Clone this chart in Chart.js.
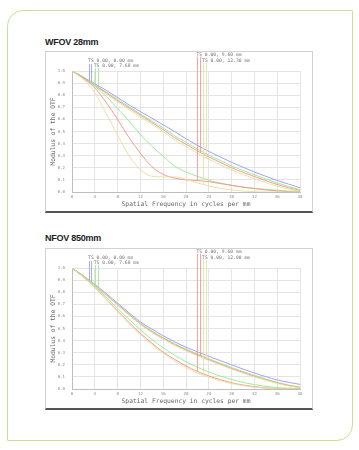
<!DOCTYPE html>
<html>
<head>
<meta charset="utf-8">
<script src="https://cdn.jsdelivr.net/npm/chart.js@4"></script>
<style>
  body { margin: 0; background: #fff; width: 359px; height: 450px; position: relative; overflow: hidden; }
  .card { position: absolute; left: 7px; top: 10px; width: 346px; height: 431px; box-sizing: border-box;
          border: 1.5px solid #c9e196; border-radius: 16px 0 16px 0; }
  .title { position: absolute; left: 45px; font: bold 9px "Liberation Sans", Arial, sans-serif;
           line-height: 11px; letter-spacing: -0.25px; color: #222; }
  .box { position: absolute; left: 45px; width: 268px; height: 162px; box-sizing: border-box;
         border: 1px solid #d2d2d2; border-bottom: 2px solid #555; }
  .box canvas { position: absolute; left: 0; top: 0; }
</style>
</head>
<body>
<div class="card"></div>
<div class="title" style="top:37px">WFOV 28mm</div>
<div class="box" style="top:51px"><canvas id="wfov" width="266" height="159"></canvas></div>
<div class="title" style="top:233px">NFOV 850mm</div>
<div class="box" style="top:248px"><canvas id="nfov" width="266" height="159"></canvas></div>
<script>
// spatial frequency samples (cycles per mm)
const freq = [0, 2, 4, 6, 8, 10, 12, 14, 16, 18, 20, 22, 24, 26, 28, 30, 32, 34, 36, 38, 40];
const xTicks = [0, 4, 8, 12, 16, 20, 24, 28, 32, 36, 40];

// WFOV 28mm curves
const wfovBlue      = [1, 0.95, 0.895, 0.84, 0.78, 0.72, 0.665, 0.61, 0.555, 0.50, 0.44, 0.385, 0.335, 0.29, 0.245, 0.205, 0.165, 0.13, 0.095, 0.065, 0.035];
const wfovGreenTop  = [1, 0.945, 0.885, 0.825, 0.765, 0.705, 0.645, 0.585, 0.53, 0.465, 0.41, 0.355, 0.305, 0.26, 0.215, 0.178, 0.142, 0.108, 0.075, 0.045, 0.02];
const wfovRedTop    = [1, 0.945, 0.88, 0.82, 0.755, 0.695, 0.635, 0.575, 0.515, 0.45, 0.395, 0.34, 0.29, 0.245, 0.2, 0.163, 0.128, 0.094, 0.062, 0.035, 0.012];
const wfovYellowTop = [1, 0.94, 0.875, 0.81, 0.745, 0.68, 0.62, 0.56, 0.5, 0.43, 0.375, 0.32, 0.27, 0.225, 0.18, 0.145, 0.11, 0.078, 0.048, 0.025, 0.008];
const wfovGreenLow  = [1, 0.95, 0.875, 0.79, 0.69, 0.585, 0.475, 0.38, 0.295, 0.215, 0.165, 0.13, 0.097, 0.075, 0.055, 0.04, 0.03, 0.022, 0.015, 0.008, 0.005];
const wfovRedLow    = [1, 0.94, 0.86, 0.74, 0.6, 0.45, 0.32, 0.21, 0.145, 0.115, 0.1, 0.095, 0.085, 0.07, 0.055, 0.04, 0.028, 0.017, 0.008, 0.003, 0];
const wfovYellowLow = [1, 0.93, 0.82, 0.65, 0.47, 0.3, 0.185, 0.13, 0.125, 0.125, 0.105, 0.075, 0.05, 0.03, 0.017, 0.008, 0.003, 0, 0, 0, 0];
const wfovLabels = ['TS 0.00, 0.00 mm', 'TS 0.00, 7.68 mm', 'TS 0.00, 9.60 mm', 'TS 0.00, 12.30 mm'];

// NFOV 850mm curves
const nfovBlue      = [1, 0.935, 0.865, 0.79, 0.71, 0.63, 0.555, 0.495, 0.44, 0.39, 0.345, 0.308, 0.27, 0.235, 0.2, 0.165, 0.132, 0.102, 0.075, 0.055, 0.038];
const nfovGreenTop  = [1, 0.935, 0.86, 0.78, 0.70, 0.62, 0.545, 0.48, 0.425, 0.375, 0.33, 0.29, 0.25, 0.213, 0.178, 0.145, 0.113, 0.083, 0.056, 0.033, 0.017];
const nfovRedTop    = [1, 0.933, 0.857, 0.777, 0.695, 0.615, 0.538, 0.473, 0.418, 0.367, 0.322, 0.282, 0.243, 0.206, 0.17, 0.137, 0.105, 0.076, 0.05, 0.028, 0.012];
const nfovYellowTop = [1, 0.932, 0.855, 0.775, 0.692, 0.61, 0.533, 0.467, 0.412, 0.36, 0.315, 0.275, 0.236, 0.2, 0.164, 0.131, 0.1, 0.072, 0.046, 0.025, 0.01];
const nfovGreenLow  = [1, 0.93, 0.85, 0.76, 0.665, 0.575, 0.49, 0.41, 0.34, 0.28, 0.225, 0.18, 0.14, 0.107, 0.078, 0.055, 0.036, 0.022, 0.012, 0.006, 0.003];
const nfovRedLow    = [1, 0.925, 0.84, 0.745, 0.645, 0.55, 0.46, 0.38, 0.305, 0.245, 0.19, 0.145, 0.108, 0.078, 0.052, 0.033, 0.019, 0.009, 0.004, 0.001, 0];
const nfovYellowLow = [1, 0.925, 0.84, 0.74, 0.64, 0.54, 0.45, 0.37, 0.295, 0.232, 0.178, 0.133, 0.097, 0.068, 0.045, 0.028, 0.015, 0.007, 0.003, 0.001, 0];
const nfovLabels = ['TS 0.00, 0.00 mm', 'TS 0.00, 7.68 mm', 'TS 0.00, 9.60 mm', 'TS 0.00, 12.00 mm'];

// legend pointer frequencies per field (first -> low curve, second -> top curve)
const pointerFreq = [[3.0, 3.3], [4.0, 4.6], [22.0, 22.5], [23.0, 23.5]];

const BLUE = 'rgb(150,150,255)', GREEN = 'rgb(140,238,140)', RED = 'rgb(250,140,140)', YELLOW = 'rgb(230,224,150)';
const fieldColors = [BLUE, GREEN, RED, YELLOW];
// label row (px above plot) and pointer start (px above plot) per field
const labelRise = [10.7, 5.7, 16.7, 10.7];
const pointerRise = [7, 3, 14.3, 7.7];

function valueAt(arr, f) {
  for (let i = 1; i < freq.length; i++) {
    if (f <= freq[i]) {
      const t = (f - freq[i - 1]) / (freq[i] - freq[i - 1]);
      return arr[i - 1] + t * (arr[i] - arr[i - 1]);
    }
  }
  return arr[arr.length - 1];
}

const pointerPlugin = {
  id: 'pointers',
  afterDatasetsDraw(chart, args, opts) {
    const ctx = chart.ctx, xs = chart.scales.x, ys = chart.scales.y, top = chart.chartArea.top;
    ctx.save();
    ctx.lineWidth = 1;
    opts.fields.forEach((field, i) => {
      ctx.strokeStyle = fieldColors[i];
      ctx.globalAlpha = 0.8;
      pointerFreq[i].forEach((f, k) => {
        const x = Math.round(xs.getPixelForValue(f)) + 0.5;
        const yEnd = ys.getPixelForValue(valueAt(field[k], f));
        ctx.beginPath();
        ctx.moveTo(x, top - pointerRise[i]);
        ctx.lineTo(x, yEnd);
        ctx.stroke();
      });
      ctx.globalAlpha = 1;
      ctx.fillStyle = '#777';
      ctx.font = '4.7px "DejaVu Sans Mono", monospace';
      ctx.textBaseline = 'middle';
      ctx.fillText(opts.labels[i], xs.getPixelForValue(pointerFreq[i][0]) - 1, top - labelRise[i]);
    });
    ctx.restore();
  }
};

function line(data, color) {
  return { data: data, borderColor: color, borderWidth: 0.9, pointRadius: 0,
           cubicInterpolationMode: 'monotone', fill: false };
}

function makeChart(id, series, labels) {
  return new Chart(document.getElementById(id), {
    type: 'line',
    data: {
      labels: freq,
      datasets: [
        line(series.yellowLow, YELLOW), line(series.redLow, RED), line(series.greenLow, GREEN),
        line(series.yellowTop, YELLOW), line(series.redTop, RED), line(series.greenTop, GREEN),
        line(series.blue, BLUE)
      ]
    },
    options: {
      responsive: false,
      animation: false,
      layout: { padding: { top: 19, right: 12, left: 0, bottom: 0 } },
      plugins: {
        legend: { display: false },
        tooltip: { enabled: false },
        pointers: {
          fields: [[series.blue, series.blue], [series.greenLow, series.greenTop],
                   [series.redLow, series.redTop], [series.yellowLow, series.yellowTop]],
          labels: labels
        }
      },
      scales: {
        x: {
          type: 'linear', min: 0, max: 40,
          afterBuildTicks: s => { s.ticks = xTicks.map(v => ({ value: v })); },
          afterFit: s => { s.height = 19; },
          grid: { color: '#e4e4e4', drawTicks: false },
          border: { color: '#bdbdbd' },
          ticks: { font: { size: 4, family: 'DejaVu Sans Mono' }, color: '#888', padding: 3, maxRotation: 0 },
          title: { display: true, text: 'Spatial Frequency in cycles per mm', color: '#666',
                   font: { size: 6.3, family: 'DejaVu Sans Mono' }, padding: { top: 0, bottom: 3 } }
        },
        y: {
          min: 0, max: 1,
          afterFit: s => { s.width = 26; },
          grid: { color: '#e4e4e4', drawTicks: false },
          border: { color: '#bdbdbd' },
          ticks: { stepSize: 0.1, font: { size: 4, family: 'DejaVu Sans Mono' }, color: '#888', padding: 7,
                   callback: v => v.toFixed(1) },
          title: { display: true, text: 'Modulus of the OTF', color: '#666',
                   font: { size: 6.3, family: 'DejaVu Sans Mono' }, padding: { top: 4, bottom: 0 } }
        }
      }
    },
    plugins: [pointerPlugin]
  });
}

makeChart('wfov', {
  blue: wfovBlue, greenTop: wfovGreenTop, redTop: wfovRedTop, yellowTop: wfovYellowTop,
  greenLow: wfovGreenLow, redLow: wfovRedLow, yellowLow: wfovYellowLow
}, wfovLabels);

makeChart('nfov', {
  blue: nfovBlue, greenTop: nfovGreenTop, redTop: nfovRedTop, yellowTop: nfovYellowTop,
  greenLow: nfovGreenLow, redLow: nfovRedLow, yellowLow: nfovYellowLow
}, nfovLabels);
</script>
</body>
</html>
